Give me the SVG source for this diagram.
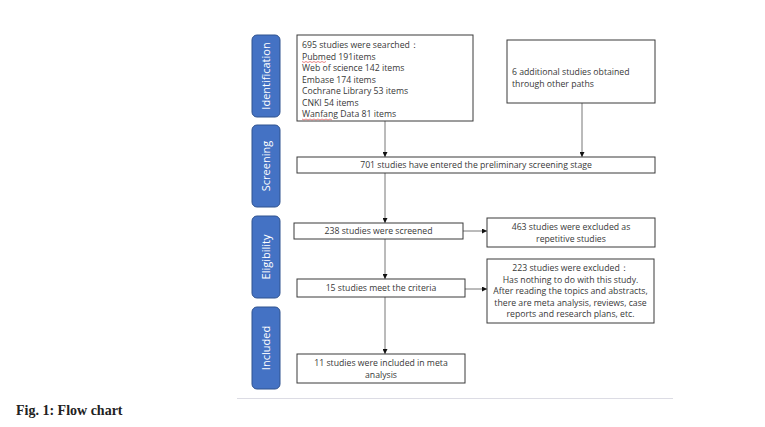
<svg xmlns="http://www.w3.org/2000/svg" width="765" height="427" viewBox="0 0 765 427">
<defs>
<style>
.bar{fill:#4472C4;stroke:#2F528F;stroke-width:1}
.bl{fill:#fff;font-family:"Open Sans","Noto Sans",sans-serif;font-size:11px;text-anchor:middle}
.box{fill:#fff;stroke:#3a3a3a;stroke-width:1}
.t{fill:#383838;font-family:"Open Sans","Noto Sans",sans-serif;font-size:8.7px}
.c{text-anchor:middle}
.ln{stroke:#777;stroke-width:1;fill:none}
.sq{stroke:#e05050;stroke-width:0.7;fill:none}
</style>
<marker id="ah" viewBox="0 0 6 6" refX="6" refY="3" markerWidth="5" markerHeight="5" orient="auto" markerUnits="userSpaceOnUse">
<path d="M0,0 L6,3 L0,6 z" fill="#111"/>
</marker>
</defs>
<rect width="765" height="427" fill="#fff"/>
<g id="stages">
<g id="stage-identification"><rect class="bar" x="252" y="35" width="28" height="82" rx="5"/><text class="bl" transform="translate(270,76) rotate(-90)">Identification</text></g>
<g id="stage-screening"><rect class="bar" x="252" y="125" width="28" height="82" rx="5"/><text class="bl" transform="translate(270,166) rotate(-90)">Screening</text></g>
<g id="stage-eligibility"><rect class="bar" x="252" y="216" width="28" height="82" rx="5"/><text class="bl" transform="translate(270,257) rotate(-90)">Eligibility</text></g>
<g id="stage-included"><rect class="bar" x="252" y="307" width="28" height="82" rx="5"/><text class="bl" transform="translate(270,348) rotate(-90)">Included</text></g>
</g>
<g id="connectors">
<line class="ln" x1="385" y1="121" x2="385" y2="157" marker-end="url(#ah)"/>
<line class="ln" x1="582" y1="103" x2="582" y2="157" marker-end="url(#ah)"/>
<line class="ln" x1="385" y1="173" x2="385" y2="223" marker-end="url(#ah)"/>
<line class="ln" x1="385" y1="239" x2="385" y2="279" marker-end="url(#ah)"/>
<line class="ln" x1="385" y1="297" x2="385" y2="354" marker-end="url(#ah)"/>
<line class="ln" x1="463" y1="231" x2="487" y2="231" marker-end="url(#ah)"/>
<line class="ln" x1="465" y1="289" x2="487" y2="289" marker-end="url(#ah)"/>
</g>
<g id="n-searched">
<rect class="box" x="297" y="35" width="176" height="86"/>
<text class="t" x="302" y="48">695 studies were searched：</text>
<text class="t" x="302" y="59.5">Pubmed 191items</text>
<text class="t" x="302" y="71">Web of science 142 items</text>
<text class="t" x="302" y="82.5">Embase 174 items</text>
<text class="t" x="302" y="94">Cochrane Library 53 items</text>
<text class="t" x="302" y="105.5">CNKI 54 items</text>
<text class="t" x="302" y="117">Wanfang Data 81 items</text>
<path class="sq" d="M302,61.5 l2,1 l2,-1 l2,1 l2,-1 l2,1 l2,-1 l2,1 l2,-1 l2,1 l2,-1 l2,1 l2,-1"/>
<path class="sq" d="M302,119 l2,1 l2,-1 l2,1 l2,-1 l2,1 l2,-1 l2,1 l2,-1 l2,1 l2,-1 l2,1 l2,-1 l2,1 l2,-1 l2,1"/>
</g>
<g id="n-additional">
<rect class="box" x="507" y="40" width="148" height="63"/>
<text class="t" x="512" y="75">6 additional studies obtained</text>
<text class="t" x="512" y="86.5">through other paths</text>
</g>
<g id="n-701">
<rect class="box" x="297" y="157" width="358" height="16"/>
<text class="t c" x="476" y="168">701 studies have entered the preliminary screening stage</text>
</g>
<g id="n-238">
<rect class="box" x="294" y="223" width="169" height="16"/>
<text class="t c" x="378.5" y="234">238 studies were screened</text>
</g>
<g id="n-463">
<rect class="box" x="487" y="218" width="168" height="29"/>
<text class="t c" x="571" y="230">463 studies were excluded as</text>
<text class="t c" x="571" y="241.5">repetitive studies</text>
</g>
<g id="n-15">
<rect class="box" x="297" y="279" width="168" height="18"/>
<text class="t c" x="381" y="291">15 studies meet the criteria</text>
</g>
<g id="n-223">
<rect class="box" x="487" y="259" width="167" height="64"/>
<text class="t c" x="570.5" y="271">223 studies were excluded：</text>
<text class="t c" x="570.5" y="282.5">Has nothing to do with this study.</text>
<text class="t c" x="570.5" y="294">After reading the topics and abstracts,</text>
<text class="t c" x="570.5" y="305.5">there are meta analysis, reviews, case</text>
<text class="t c" x="570.5" y="317">reports and research plans, etc.</text>
</g>
<g id="n-11">
<rect class="box" x="297" y="354" width="168" height="29"/>
<text class="t c" x="381" y="366">11 studies were included in meta</text>
<text class="t c" x="381" y="377.5">analysis</text>
</g>
<line x1="237" y1="398.5" x2="673" y2="398.5" stroke="#dcdce4" stroke-width="1"/>
<text x="16" y="415" font-family="Liberation Serif,serif" font-weight="bold" font-size="14" fill="#222">Fig. 1: Flow chart</text>
</svg>
